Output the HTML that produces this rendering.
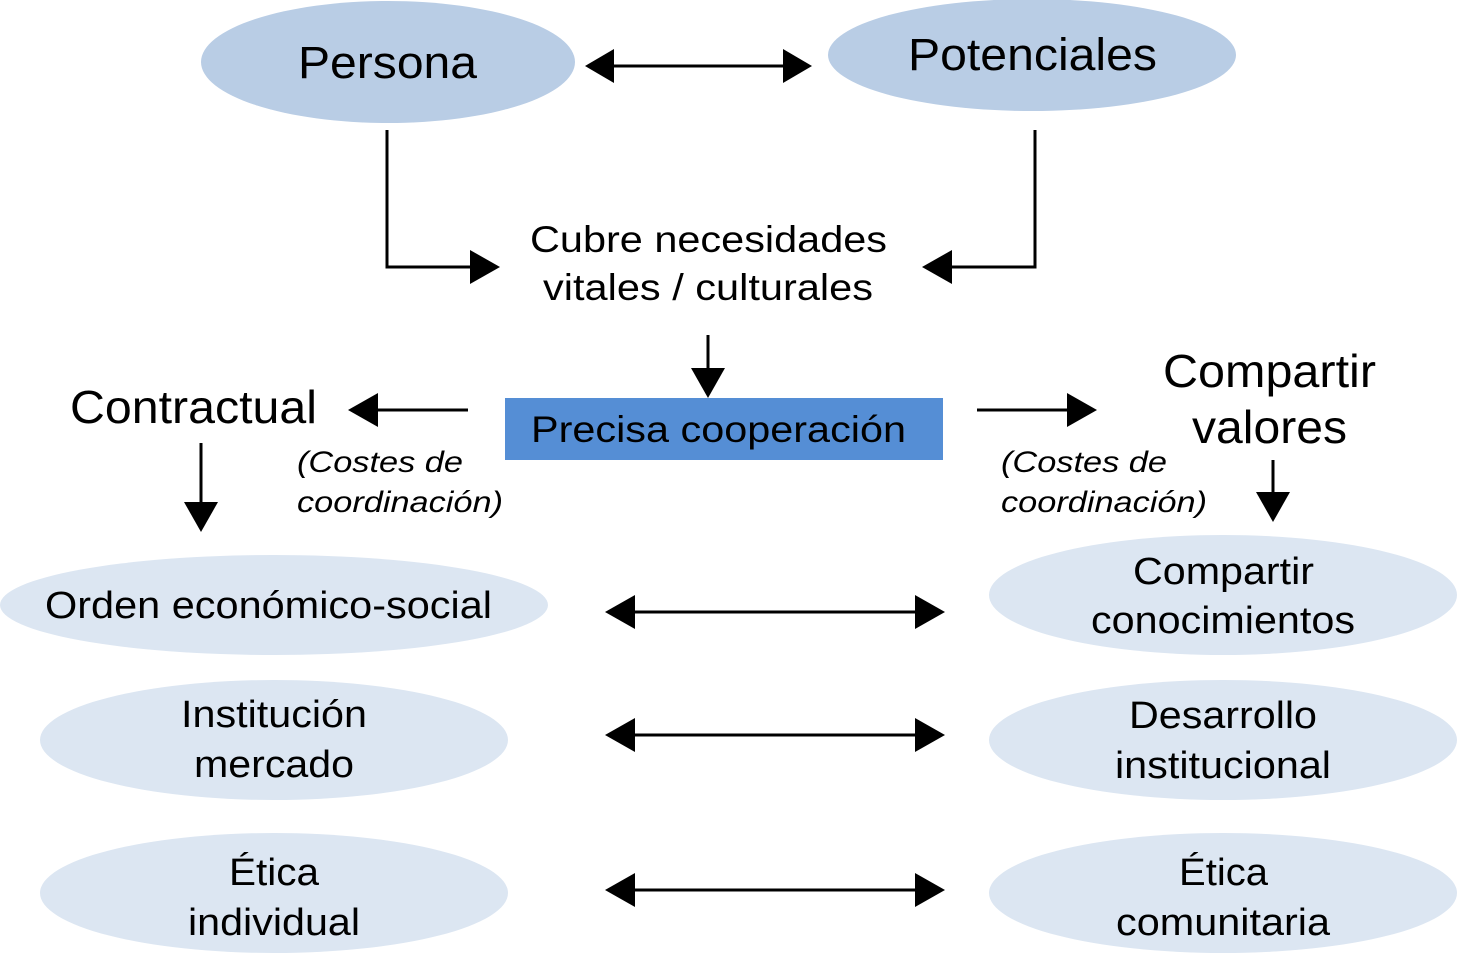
<!DOCTYPE html>
<html><head><meta charset="utf-8"><style>
html,body{margin:0;padding:0;background:#fff;width:1457px;height:957px;overflow:hidden}
text{font-family:"Liberation Sans",sans-serif;fill:#000}
</style></head><body>
<svg width="1457" height="957" viewBox="0 0 1457 957" xmlns="http://www.w3.org/2000/svg">
<g fill="#b9cde5">
<ellipse cx="388" cy="62" rx="187" ry="61"/>
<ellipse cx="1032" cy="55" rx="204" ry="56"/>
</g>
<g fill="#dce6f2">
<ellipse cx="274" cy="605" rx="274" ry="50"/>
<ellipse cx="274" cy="740" rx="234" ry="60"/>
<ellipse cx="274" cy="893" rx="234" ry="60"/>
<ellipse cx="1223" cy="595" rx="234" ry="60"/>
<ellipse cx="1223" cy="740" rx="234" ry="60"/>
<ellipse cx="1223" cy="893" rx="234" ry="60"/>
</g>
<rect x="505" y="398" width="438" height="62" fill="#558ed5"/>
<g stroke="#000" stroke-width="3" fill="none">
<polyline points="614,66 783,66"/>
<polyline points="387,130 387,267 470,267"/>
<polyline points="1035,130 1035,267 952,267"/>
<line x1="708" y1="335" x2="708" y2="370"/>
<line x1="468" y1="410" x2="376" y2="410"/>
<line x1="977" y1="410" x2="1069" y2="410"/>
<line x1="201" y1="443" x2="201" y2="504"/>
<line x1="1273" y1="460" x2="1273" y2="494"/>
<line x1="633" y1="612" x2="917" y2="612"/>
<line x1="633" y1="735" x2="917" y2="735"/>
<line x1="633" y1="890" x2="917" y2="890"/>
</g>
<g fill="#000">
<path d="M585,66 L614,49 L614,83 Z"/><path d="M812,66 L783,49 L783,83 Z"/>
<path d="M500,267 L470,250 L470,284 Z"/>
<path d="M922,267 L952,250 L952,284 Z"/>
<path d="M708,398 L691,368 L725,368 Z"/>
<path d="M348,410 L378,393 L378,427 Z"/>
<path d="M1097,410 L1067,393 L1067,427 Z"/>
<path d="M201,532 L184,502 L218,502 Z"/>
<path d="M1273,522 L1256,492 L1290,492 Z"/>
<path d="M605,612 L635,595 L635,629 Z"/><path d="M945,612 L915,595 L915,629 Z"/>
<path d="M605,735 L635,718 L635,752 Z"/><path d="M945,735 L915,718 L915,752 Z"/>
<path d="M605,890 L635,873 L635,907 Z"/><path d="M945,890 L915,873 L915,907 Z"/>
</g>
<g lengthAdjust="spacingAndGlyphs">
<text x="298" y="78" font-size="45" textLength="179" lengthAdjust="spacingAndGlyphs">Persona</text>
<text x="908" y="70" font-size="45" textLength="249" lengthAdjust="spacingAndGlyphs">Potenciales</text>
<text x="530" y="252" font-size="37" textLength="357" lengthAdjust="spacingAndGlyphs">Cubre necesidades</text>
<text x="543" y="300" font-size="37" textLength="330" lengthAdjust="spacingAndGlyphs">vitales / culturales</text>
<text x="1163" y="387" font-size="46" textLength="213" lengthAdjust="spacingAndGlyphs">Compartir</text>
<text x="1192" y="443" font-size="46" textLength="155" lengthAdjust="spacingAndGlyphs">valores</text>
<text x="45" y="618" font-size="38" textLength="447" lengthAdjust="spacingAndGlyphs">Orden económico-social</text>
<text x="181" y="727" font-size="38" textLength="186" lengthAdjust="spacingAndGlyphs">Institución</text>
<text x="194" y="777" font-size="38" textLength="160" lengthAdjust="spacingAndGlyphs">mercado</text>
<text x="229" y="885" font-size="38" textLength="90" lengthAdjust="spacingAndGlyphs">Ética</text>
<text x="188" y="935" font-size="38" textLength="172" lengthAdjust="spacingAndGlyphs">individual</text>
<text x="1133" y="584" font-size="38" textLength="181" lengthAdjust="spacingAndGlyphs">Compartir</text>
<text x="1091" y="633" font-size="38" textLength="264" lengthAdjust="spacingAndGlyphs">conocimientos</text>
<text x="1129" y="728" font-size="38" textLength="188" lengthAdjust="spacingAndGlyphs">Desarrollo</text>
<text x="1115" y="778" font-size="38" textLength="216" lengthAdjust="spacingAndGlyphs">institucional</text>
<text x="1179" y="885" font-size="38" textLength="89" lengthAdjust="spacingAndGlyphs">Ética</text>
<text x="1116" y="935" font-size="38" textLength="214" lengthAdjust="spacingAndGlyphs">comunitaria</text>
<text x="531" y="442" font-size="37" textLength="375" lengthAdjust="spacingAndGlyphs">Precisa cooperación</text>
<text x="70" y="423" font-size="46" textLength="247" lengthAdjust="spacingAndGlyphs">Contractual</text>
</g>
<g font-size="30" font-style="italic">
<text x="297" y="472" textLength="166" lengthAdjust="spacingAndGlyphs">(Costes de</text>
<text x="297" y="512" textLength="206" lengthAdjust="spacingAndGlyphs">coordinación)</text>
<text x="1001" y="472" textLength="166" lengthAdjust="spacingAndGlyphs">(Costes de</text>
<text x="1001" y="512" textLength="206" lengthAdjust="spacingAndGlyphs">coordinación)</text>
</g>
</svg>
</body></html>
